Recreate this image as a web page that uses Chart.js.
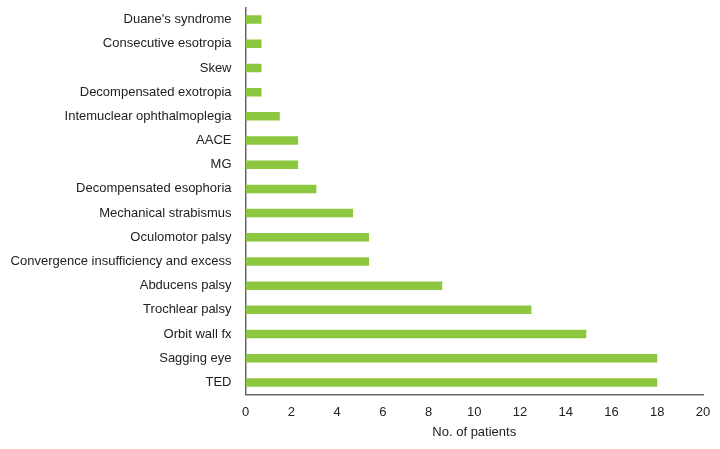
<!DOCTYPE html>
<html>
<head>
<meta charset="utf-8">
<script src="https://cdn.jsdelivr.net/npm/chart.js@4/dist/chart.umd.min.js"></script>
<style>
	html, body { margin: 0; padding: 0; background: #fff; }
	#wrap { width: 720px; height: 449px; }
</style>
</head>
<body>
<div id="wrap"><canvas id="chart"></canvas></div>
<script>
	// top to bottom, as in the figure
	var categories = [
		"Duane's syndrome",
		'Consecutive esotropia',
		'Skew',
		'Decompensated exotropia',
		'Intemuclear ophthalmoplegia',
		'AACE',
		'MG',
		'Decompensated esophoria',
		'Mechanical strabismus',
		'Oculomotor palsy',
		'Convergence insufficiency and excess',
		'Abducens palsy',
		'Trochlear palsy',
		'Orbit wall fx',
		'Sagging eye',
		'TED'
	];
	var patients = [0.7, 0.7, 0.7, 0.7, 1.5, 2.3, 2.3, 3.1, 4.7, 5.4, 5.4, 8.6, 12.5, 14.9, 18, 18];
	var xTicks = [0, 2, 4, 6, 8, 10, 12, 14, 16, 18, 20];

	Chart.defaults.font.family = '"Liberation Sans", Arial, sans-serif';
	Chart.defaults.font.size = 13;
	Chart.defaults.color = '#222';

	new Chart(document.getElementById('chart'), {
		type: 'bar',
		data: {
			labels: categories,
			datasets: [{
				data: patients,
				backgroundColor: '#8dc63f',
				borderWidth: 0,
				barPercentage: 0.35,
				categoryPercentage: 1
			}]
		},
		options: {
			indexAxis: 'y',
			responsive: true,
			maintainAspectRatio: false,
			animation: false,
			layout: { padding: { top: 7.5, right: 17, bottom: 9, left: 7 } },
			plugins: {
				legend: { display: false },
				tooltip: { enabled: false }
			},
			scales: {
				x: {
					min: 0,
					max: 20,
					afterBuildTicks: function (axis) {
						axis.ticks = xTicks.map(function (v) { return { value: v }; });
					},
					afterFit: function (axis) {
						axis.height = 45.5;
						axis.paddingLeft = 0;
						axis.paddingRight = 0;
					},
					grid: { display: false, drawTicks: false },
					border: { display: true, color: '#666', width: 1.5 },
					ticks: { padding: 10.5, maxRotation: 0 },
					title: { display: true, text: 'No. of patients', padding: { top: 0, bottom: 0 } }
				},
				y: {
					afterFit: function (axis) {
						axis.width = 238.5;
						axis.paddingTop = 0;
						axis.paddingBottom = 0;
					},
					grid: { display: false, drawTicks: false },
					border: { display: true, color: '#666', width: 1.5 },
					ticks: { padding: 14, autoSkip: false }
				}
			}
		}
	});
</script>
</body>
</html>
